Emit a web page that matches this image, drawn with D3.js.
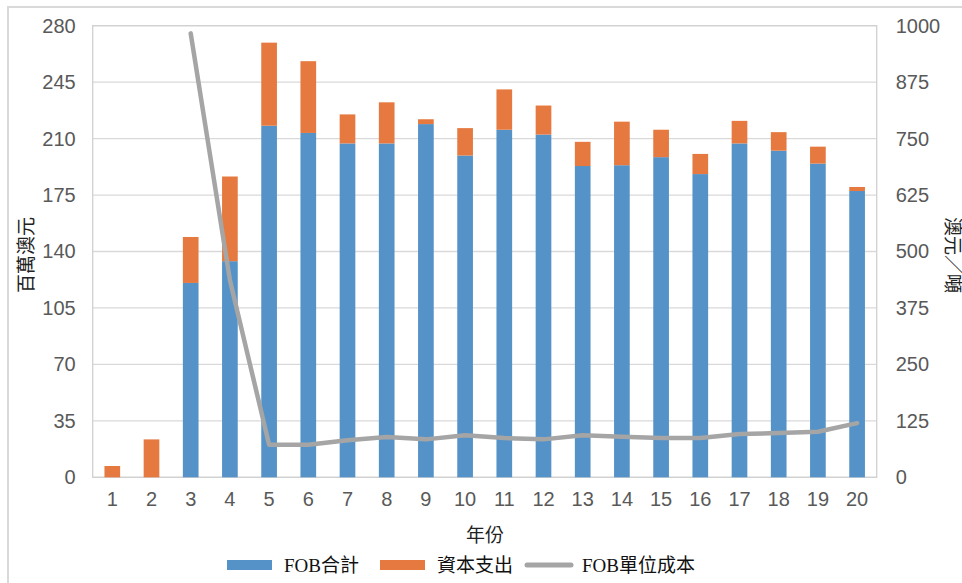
<!DOCTYPE html>
<html>
<head>
<meta charset="utf-8">
<script src="https://cdn.jsdelivr.net/npm/d3@7"></script>
<style>
  body { margin: 0; background: #fff; }
  svg { display: block; }
</style>
</head>
<body>
<div id="chart"></div>
<script>
const years = ["1","2","3","4","5","6","7","8","9","10","11","12","13","14","15","16","17","18","19","20"];
const fobTotal = [0, 0, 120.5, 134, 218, 213.5, 207, 207, 219, 199.5, 215.5, 212.5, 193, 193.5, 198.5, 188, 207, 202.5, 194.5, 177.5];
const capex = [7, 23.5, 28.5, 52.5, 51.5, 44.5, 18, 25.5, 3, 17, 25, 18, 15, 27, 17, 12.5, 14, 11.5, 10.5, 2.5];
const unitCost = [null, null, 983, 437, 72, 72, 82, 89, 84, 93, 87, 84, 93, 90, 87, 87, 96, 98, 101, 120];
const leftTicks = [0, 35, 70, 105, 140, 175, 210, 245, 280];
const rightTicks = [0, 125, 250, 375, 500, 625, 750, 875, 1000];
const seriesNames = ["FOB合計", "資本支出", "FOB單位成本"];

const W = 962, H = 583;
const margin = { top: 25.7, right: 85.3, bottom: 105.7, left: 92.7 };
const width = W - margin.left - margin.right;
const height = H - margin.top - margin.bottom;

const colors = { fob: "#5592c8", capex: "#e5793f", line: "#a5a5a5" };
const tickFont = "'Liberation Sans', Arial, sans-serif";
const titleFont = "'Liberation Serif', 'Noto Sans CJK TC', serif";

const root = d3.select("#chart").append("svg")
  .attr("width", W)
  .attr("height", H);

// outer chart frame
root.append("rect")
  .attr("x", 8).attr("y", 7)
  .attr("width", W + 20).attr("height", H + 20)
  .attr("fill", "none")
  .attr("stroke", "#d9d9d9")
  .attr("stroke-width", 2);

const svg = root.append("g")
  .attr("transform", `translate(${margin.left}, ${margin.top})`);

const x = d3.scaleBand().domain(years).range([0, width]).paddingInner(0.6).paddingOuter(0.3);
const yL = d3.scaleLinear().domain([0, 280]).range([height, 0]);
const yR = d3.scaleLinear().domain([0, 1000]).range([height, 0]);

// gridlines
svg.append("g")
  .selectAll("line")
  .data(leftTicks)
  .enter()
  .append("line")
  .attr("x1", 0).attr("x2", width)
  .attr("y1", (d) => yL(d)).attr("y2", (d) => yL(d))
  .attr("stroke", "#d9d9d9")
  .attr("stroke-width", 1.3);

// plot border
svg.append("rect")
  .attr("x", 0).attr("y", 0)
  .attr("width", width).attr("height", height)
  .attr("fill", "none")
  .attr("stroke", "#d0d0d0")
  .attr("stroke-width", 1.3);

// stacked bars
const stacked = years.map((y, i) => ({ year: y, fob: fobTotal[i], capex: capex[i] }));

svg.selectAll(".bar-fob")
  .data(stacked)
  .enter()
  .append("rect")
  .attr("class", "bar-fob")
  .attr("x", (d) => x(d.year))
  .attr("y", (d) => yL(d.fob))
  .attr("width", x.bandwidth())
  .attr("height", (d) => yL(0) - yL(d.fob))
  .attr("fill", colors.fob);

svg.selectAll(".bar-capex")
  .data(stacked)
  .enter()
  .append("rect")
  .attr("class", "bar-capex")
  .attr("x", (d) => x(d.year))
  .attr("y", (d) => yL(d.fob + d.capex))
  .attr("width", x.bandwidth())
  .attr("height", (d) => yL(d.fob) - yL(d.fob + d.capex))
  .attr("fill", colors.capex);

// unit cost line
const line = d3.line()
  .defined((d) => d.v !== null)
  .x((d) => x(d.year) + x.bandwidth() / 2)
  .y((d) => yR(d.v));

svg.append("path")
  .datum(years.map((y, i) => ({ year: y, v: unitCost[i] })))
  .attr("d", line)
  .attr("fill", "none")
  .attr("stroke", colors.line)
  .attr("stroke-width", 4.5)
  .attr("stroke-linejoin", "round")
  .attr("stroke-linecap", "round");

// axes
const leftAxis = d3.axisLeft(yL).tickValues(leftTicks).tickSize(0).tickPadding(17).tickFormat(d3.format("d"));
const rightAxis = d3.axisRight(yR).tickValues(rightTicks).tickSize(0).tickPadding(19).tickFormat(d3.format("d"));
const bottomAxis = d3.axisBottom(x).tickSize(0).tickPadding(15);

function styleAxis(g) {
  g.select(".domain").remove();
  g.selectAll("text")
    .attr("fill", "#595959")
    .style("font-family", tickFont)
    .style("font-size", "20px");
}

svg.append("g").call(leftAxis).call(styleAxis);
svg.append("g").attr("transform", `translate(${width}, 0)`).call(rightAxis).call(styleAxis);
svg.append("g").attr("transform", `translate(0, ${height})`).call(bottomAxis).call(styleAxis);

// axis titles
root.append("text")
  .attr("transform", `translate(33, 255) rotate(-90)`)
  .attr("text-anchor", "middle")
  .style("font-family", titleFont)
  .style("font-size", "19px")
  .attr("fill", "#222")
  .text("百萬澳元");

root.append("text")
  .attr("transform", `translate(946, 255) rotate(90)`)
  .attr("text-anchor", "middle")
  .style("font-family", titleFont)
  .style("font-size", "19px")
  .attr("fill", "#222")
  .text("澳元／噸");

root.append("text")
  .attr("x", 485).attr("y", 542)
  .attr("text-anchor", "middle")
  .style("font-family", titleFont)
  .style("font-size", "19px")
  .attr("fill", "#222")
  .text("年份");

// legend
const legendItems = [
  { name: seriesNames[0], color: colors.fob, type: "rect", x: 227 },
  { name: seriesNames[1], color: colors.capex, type: "rect", x: 380 },
  { name: seriesNames[2], color: colors.line, type: "line", x: 525 },
];

const legend = root.append("g").attr("transform", "translate(0, 565)");

legendItems.forEach((item) => {
  if (item.type === "rect") {
    legend.append("rect")
      .attr("x", item.x).attr("y", -5)
      .attr("width", 45).attr("height", 10)
      .attr("fill", item.color);
  } else {
    legend.append("line")
      .attr("x1", item.x + 2).attr("x2", item.x + 46)
      .attr("y1", 0).attr("y2", 0)
      .attr("stroke", item.color)
      .attr("stroke-width", 5)
      .attr("stroke-linecap", "round");
  }
  legend.append("text")
    .attr("x", item.x + 57).attr("y", 7)
    .style("font-family", titleFont)
    .style("font-size", "19px")
    .attr("fill", "#111")
    .text(item.name);
});
</script>
</body>
</html>
